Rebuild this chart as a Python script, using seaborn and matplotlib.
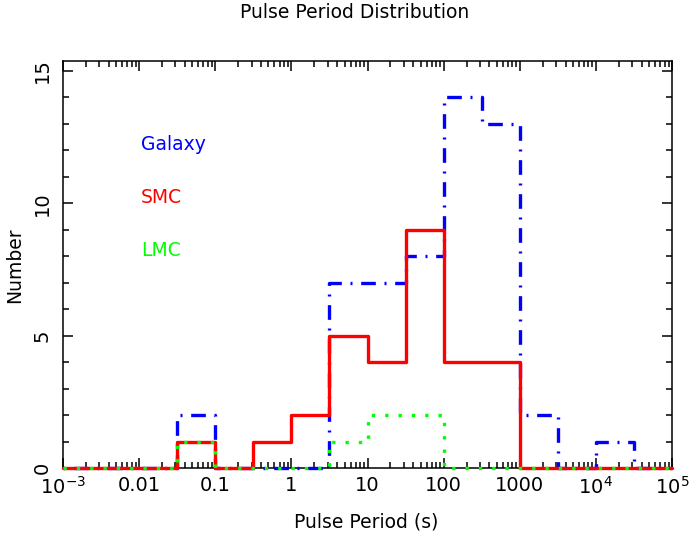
import numpy as np
import pandas as pd
import matplotlib
matplotlib.use("Agg")
import matplotlib.pyplot as plt
import matplotlib.ticker as mticker
import seaborn as sns

# log10 of bin edges (half-decade bins) and counts per bin
log_edges = [-3, -2.5, -2, -1.5, -1, -0.5, 0, 0.5, 1, 1.5, 2, 2.5, 3, 3.5, 4, 4.5, 5]
galaxy = [0, 0, 0, 2, 0, 0, 0, 7, 7, 8, 14, 13, 2, 0, 1, 0]
smc    = [0, 0, 0, 1, 0, 1, 2, 5, 4, 9, 4, 4, 0, 0, 0, 0]
lmc    = [0, 0, 0, 1, 0, 0, 0, 1, 2, 2, 0, 0, 0, 0, 0, 0]
xtick_vals = [1e-3, 1e-2, 1e-1, 1, 10, 100, 1000, 1e4, 1e5]
xtick_labels = [r"10$^{-3}$", "0.01", "0.1", "1", "10", "100", "1000", r"10$^{4}$", r"10$^{5}$"]
labels = ["Galaxy", "SMC", "LMC"]
label_y = [12, 10, 8]

sns.set_style("ticks")
plt.rcParams["font.family"] = ["DejaVu Sans"]
plt.rcParams["mathtext.default"] = "regular"
plt.rcParams["text.color"] = "black"
plt.rcParams["xtick.color"] = "black"
plt.rcParams["ytick.color"] = "black"

edges = 10.0 ** np.array(log_edges)

fig = plt.figure(figsize=(6.93, 5.45), dpi=100)
ax = fig.add_axes([63 / 693, 1 - 468 / 545, (672 - 63) / 693, (468 - 61) / 545])

def steps(counts):
    return pd.DataFrame({"x": edges, "y": list(counts) + [counts[-1]]})

lw = 2.4
common = dict(ax=ax, drawstyle="steps-post", lw=lw, clip_on=False, zorder=5)
sns.lineplot(data=steps(galaxy), x="x", y="y", color="#0000ff",
             linestyle=(0, (0.6, 2.6, 4.4, 2.6)), dash_capstyle="butt", **common)
sns.lineplot(data=steps(smc), x="x", y="y", color="#ff0000", linestyle="-", **common)
sns.lineplot(data=steps(lmc), x="x", y="y", color="#00ff00",
             linestyle=(0, (1, 3)), **common)

ax.set_xscale("log")
ax.set_xlim(1e-3, 1e5)
ax.set_ylim(0, 15.375)

ax.xaxis.set_major_locator(mticker.FixedLocator(xtick_vals))
ax.xaxis.set_major_formatter(mticker.FixedFormatter(xtick_labels))
ax.xaxis.set_minor_locator(mticker.LogLocator(base=10, subs=np.arange(2, 10), numticks=20))
ax.xaxis.set_minor_formatter(mticker.NullFormatter())
ax.yaxis.set_major_locator(mticker.MultipleLocator(5))
ax.yaxis.set_minor_locator(mticker.MultipleLocator(1))

ax.tick_params(which="both", direction="in", top=True, right=True, width=1.1,
               colors="black", labelsize=14)
ax.tick_params(which="major", length=7.5)
ax.tick_params(which="minor", length=4.5)
ax.tick_params(axis="x", which="major", pad=6)
ax.tick_params(axis="y", which="major", pad=8)
for lab in ax.get_yticklabels():
    lab.set_rotation(90)
    lab.set_va("center")
for s in ax.spines.values():
    s.set_linewidth(1.1)
    s.set_color("black")
    s.set_visible(True)

ax.set_xlabel("")
ax.set_ylabel("")
fig.text(366 / 693, 1 - 522 / 545, "Pulse Period (s)", ha="center", va="center", fontsize=13.5)
fig.text(15 / 693, 1 - 265 / 545, "Number", ha="center", va="center", rotation=90, fontsize=13.5)
fig.text(355 / 693, 1 - 12 / 545, "Pulse Period Distribution", ha="center", va="center", fontsize=13.5)

colors = ["#0000ff", "#ff0000", "#00ff00"]
for t, yv, c in zip(labels, label_y, colors):
    ax.text(0.0105, yv, t, color=c, fontsize=13.5, ha="left", va="baseline")

fig.savefig("out.png", dpi=100)
